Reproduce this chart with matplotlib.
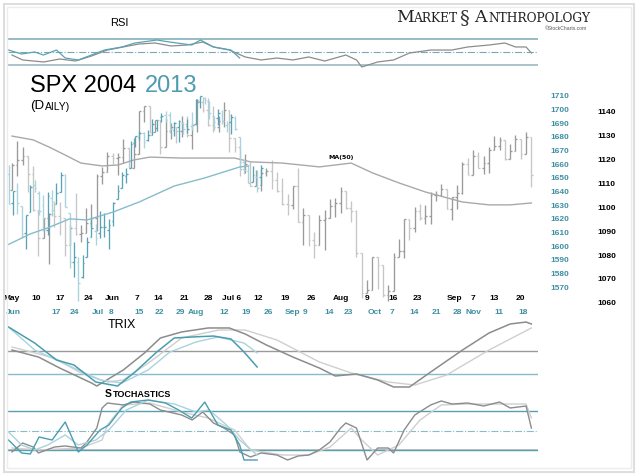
import numpy as np
import matplotlib
matplotlib.use('Agg')
import matplotlib.pyplot as plt
from matplotlib.patches import Rectangle

W, H = 640, 476
TEAL = '#3f8fa2'
TEAL_UP = '#5aa3b5'
TEAL_DN = '#a9d3dd'
GRAY_UP = '#9a9a9a'
GRAY_DN = '#c6c6c6'

# ---- SPX 2004 daily bars, May 3 .. Sep 22 (trading day index) ----
open04 = [1107.3, 1117.5, 1119.6, 1121.5, 1114.0, 1098.7, 1087.1, 1095.5, 1097.3, 1096.4,
          1095.7, 1084.1, 1091.5, 1088.7, 1089.2, 1093.6, 1095.4, 1113.1, 1114.9, 1121.3,
          1120.7, 1121.2, 1125.0, 1116.6, 1122.5, 1140.4, 1142.2, 1131.3, 1136.5, 1125.3,
          1132.0, 1133.6, 1132.1, 1135.0, 1130.3, 1134.4, 1144.1, 1140.7, 1134.4, 1133.4,
          1136.2, 1140.8, 1128.9, 1125.4, 1116.2, 1118.3, 1109.1, 1112.8, 1114.4, 1115.1,
          1111.5, 1106.7, 1101.4, 1100.9, 1108.7, 1093.9, 1096.8, 1086.2, 1084.1, 1094.8,
          1095.4, 1100.4, 1101.7, 1106.6, 1099.7, 1098.6, 1080.7, 1064.0, 1065.2, 1079.0,
          1075.8, 1063.2, 1064.8, 1079.3, 1081.7, 1095.2, 1091.2, 1098.4, 1095.7, 1096.2,
          1105.0, 1105.1, 1107.8, 1099.2, 1104.2, 1105.9, 1118.3, 1113.6, 1121.3, 1116.3,
          1118.4, 1123.9, 1125.8, 1128.3, 1120.4, 1123.5, 1128.6, 1122.2, 1129.3]
high04 = [1118.7, 1127.7, 1125.1, 1121.5, 1117.3, 1098.7, 1095.7, 1097.6, 1102.8, 1102.1,
          1095.7, 1092.4, 1105.9, 1092.6, 1099.6, 1101.3, 1113.8, 1116.7, 1123.0, 1122.7,
          1122.7, 1128.5, 1125.0, 1129.2, 1140.5, 1142.2, 1142.2, 1136.5, 1136.5, 1137.4,
          1135.3, 1133.6, 1138.1, 1138.0, 1135.1, 1145.2, 1146.3, 1145.9, 1142.6, 1138.3,
          1144.2, 1140.8, 1129.2, 1125.4, 1122.4, 1119.1, 1115.6, 1116.1, 1116.3, 1119.6,
          1114.6, 1112.2, 1105.5, 1108.9, 1116.3, 1099.7, 1096.8, 1089.8, 1096.7, 1098.8,
          1103.5, 1103.7, 1108.6, 1106.6, 1102.5, 1098.8, 1080.7, 1069.5, 1079.0, 1079.0,
          1075.8, 1067.6, 1080.7, 1086.8, 1095.2, 1095.2, 1100.3, 1101.4, 1100.9, 1106.3,
          1106.8, 1109.7, 1107.8, 1104.2, 1109.2, 1119.1, 1120.8, 1124.1, 1123.1, 1121.3,
          1125.3, 1129.8, 1129.5, 1128.3, 1126.6, 1130.1, 1128.6, 1131.5, 1129.3]
low04 = [1107.3, 1112.9, 1117.9, 1106.3, 1098.6, 1079.6, 1087.1, 1076.3, 1091.8, 1088.2,
         1079.4, 1084.1, 1088.5, 1085.4, 1089.2, 1091.8, 1090.0, 1109.9, 1114.9, 1118.1,
         1113.3, 1118.5, 1116.6, 1116.6, 1122.5, 1135.5, 1131.2, 1131.3, 1122.2, 1125.3,
         1128.7, 1126.9, 1129.6, 1129.6, 1124.4, 1131.7, 1139.9, 1133.9, 1131.7, 1131.5,
         1133.6, 1123.1, 1123.3, 1113.2, 1114.5, 1108.7, 1109.1, 1106.7, 1112.9, 1107.8,
         1106.5, 1101.1, 1096.6, 1099.1, 1093.9, 1084.2, 1083.6, 1078.8, 1084.1, 1082.2,
         1095.4, 1096.0, 1097.6, 1099.3, 1094.0, 1079.2, 1062.2, 1063.9, 1065.2, 1065.9,
         1062.5, 1060.7, 1064.8, 1079.3, 1078.9, 1086.1, 1089.6, 1094.7, 1092.8, 1093.2,
         1102.5, 1104.6, 1099.2, 1094.7, 1099.2, 1105.6, 1113.6, 1113.6, 1116.3, 1113.9,
         1114.4, 1123.9, 1124.1, 1119.8, 1120.4, 1123.5, 1120.3, 1122.2, 1108.6]
close04 = [1117.5, 1119.6, 1121.5, 1114.0, 1098.7, 1087.1, 1095.5, 1097.3, 1096.4, 1095.7,
           1084.1, 1091.5, 1088.7, 1089.2, 1093.6, 1095.4, 1113.1, 1114.9, 1121.3, 1120.7,
           1121.2, 1125.0, 1116.6, 1122.5, 1140.4, 1142.2, 1131.3, 1136.5, 1125.3, 1132.0,
           1133.6, 1132.1, 1135.0, 1130.3, 1134.4, 1144.1, 1140.7, 1134.4, 1133.4, 1136.2,
           1140.8, 1128.9, 1125.4, 1116.2, 1118.3, 1109.1, 1112.8, 1114.4, 1115.1, 1111.5,
           1106.7, 1101.4, 1100.9, 1108.7, 1093.9, 1096.8, 1086.2, 1084.1, 1094.8, 1095.4,
           1100.4, 1101.7, 1106.6, 1099.7, 1098.6, 1080.7, 1064.0, 1065.2, 1079.0, 1075.8,
           1063.2, 1064.8, 1079.3, 1081.7, 1095.2, 1091.2, 1098.4, 1095.7, 1096.2, 1105.0,
           1105.1, 1107.8, 1099.2, 1104.2, 1105.9, 1118.3, 1113.6, 1121.3, 1116.3, 1118.4,
           1123.9, 1125.8, 1128.3, 1120.4, 1123.5, 1128.6, 1122.2, 1129.3, 1113.6]

# ---- SPX 2013 daily bars, May 31 .. Aug 22 ----
open13 = [1652.6, 1631.7, 1640.7, 1629.1, 1609.9, 1625.3, 1644.7, 1638.6, 1629.9, 1612.2, 1635.5,
          1630.6, 1639.8, 1651.8, 1624.6, 1588.6, 1588.8, 1577.5, 1592.3, 1606.4, 1611.1,
          1609.8, 1614.3, 1611.5, 1618.7, 1634.2, 1642.9, 1651.6, 1657.4, 1675.3, 1679.6,
          1682.7, 1677.9, 1681.1, 1686.2, 1694.4, 1696.1, 1696.1, 1685.2, 1687.3, 1690.3,
          1687.9, 1687.8, 1689.4, 1706.1, 1708.0, 1705.8, 1695.3, 1693.4, 1696.1, 1688.4,
          1690.7, 1693.9, 1679.6, 1661.2, 1655.3, 1646.8, 1650.7, 1645.0]
high13 = [1659.0, 1640.4, 1646.5, 1629.3, 1622.6, 1644.4, 1648.7, 1640.1, 1637.7, 1639.3, 1640.8,
          1646.5, 1654.2, 1652.5, 1624.6, 1603.3, 1592.4, 1593.8, 1606.8, 1620.1, 1615.9,
          1626.0, 1624.3, 1620.1, 1632.1, 1644.7, 1654.2, 1656.9, 1676.6, 1680.2, 1684.5,
          1683.7, 1684.8, 1693.1, 1692.1, 1697.6, 1698.8, 1698.4, 1690.9, 1691.9, 1690.9,
          1693.2, 1698.4, 1707.9, 1709.7, 1709.2, 1705.8, 1695.3, 1700.2, 1699.4, 1691.5,
          1696.8, 1695.5, 1679.6, 1663.6, 1659.2, 1658.9, 1656.0, 1659.0]
low13 = [1630.7, 1622.7, 1623.6, 1607.1, 1598.2, 1625.3, 1639.3, 1622.9, 1610.9, 1608.1, 1622.4,
         1630.6, 1639.8, 1628.9, 1584.3, 1577.7, 1560.3, 1577.1, 1592.3, 1606.4, 1601.1,
         1606.3, 1606.8, 1598.2, 1614.7, 1634.2, 1642.9, 1646.0, 1657.4, 1672.3, 1677.9,
         1671.8, 1677.1, 1681.1, 1684.1, 1690.7, 1691.1, 1682.6, 1680.2, 1676.0, 1681.9,
         1682.4, 1684.9, 1689.4, 1700.7, 1703.6, 1693.3, 1684.9, 1688.4, 1689.0, 1683.4,
         1682.2, 1684.8, 1658.6, 1652.6, 1646.1, 1646.8, 1639.4, 1645.0]
close13 = [1630.7, 1640.4, 1631.4, 1608.9, 1622.6, 1643.4, 1642.8, 1626.1, 1612.5, 1636.4, 1626.7,
           1639.0, 1651.8, 1628.9, 1588.2, 1592.4, 1573.1, 1588.0, 1603.3, 1613.2, 1606.3,
           1614.1, 1614.1, 1615.4, 1631.9, 1640.5, 1652.3, 1652.6, 1675.0, 1680.2, 1682.5,
           1676.3, 1680.9, 1689.4, 1692.1, 1695.5, 1692.4, 1685.9, 1690.3, 1691.7, 1685.3,
           1686.0, 1685.7, 1706.9, 1709.7, 1707.1, 1697.4, 1690.9, 1697.5, 1691.4, 1689.5,
           1694.2, 1685.4, 1661.3, 1655.8, 1646.1, 1652.4, 1642.8, 1657.0]

# 50 day moving averages
ma04_x = [0, 4, 7, 10, 13, 17, 20, 23, 26, 32, 39, 42, 45, 51, 58, 64, 68, 73, 78, 85, 90, 94, 98]
ma04_y = [1129.8, 1128.2, 1125.2, 1121.9, 1118.5, 1117.3, 1117.7, 1119.8, 1121.0, 1120.6, 1120.6,
          1120.6, 1119.0, 1118.5, 1116.9, 1118.5, 1114.4, 1110.2, 1106.4, 1102.2, 1101.0, 1101.0, 1101.8]
ma13_x = [0, 5, 9, 14, 18, 24, 30, 38, 45, 53, 55]
ma13_y = [1601.3, 1609.0, 1613.4, 1620.0, 1619.2, 1625.0, 1632.4, 1644.0, 1649.9, 1657.9, 1658.6]

# date labels
ticks04 = [0, 4.5, 9, 14.5, 19, 23.5, 27.5, 32.5, 37, 41.5, 46.5, 51.5, 56.5, 62, 67, 72, 76.5,
           83.5, 87, 91, 96]
labels04 = ['May', '10', '17', '24', 'Jun', '7', '14', '21', '28', 'Jul 6', '12', '19', '26',
            'Aug', '9', '16', '23', 'Sep', '7', '13', '20']
ticks13 = [1, 11, 15, 20.5, 23.5, 30, 34.5, 39.5, 43, 49.5, 54.5, 59.5, 65, 68, 73.5, 78, 84,
           88, 93, 98, 103, 106.5, 112.5, 118]
labels13 = ['Jun', '17', '24', 'Jul', '8', '15', '22', '29', 'Aug', '12', '19', '26', 'Sep', '9',
            '14', '23', 'Oct', '7', '14', '21', '28', 'Nov', '11', '18']
price_ticks13 = list(range(1570, 1711, 10))
price_ticks04 = list(range(1060, 1141, 10))

# RSI
rsi04_x = [0, 2, 6, 9, 12, 15, 18, 21, 24, 27, 30, 33, 36, 38, 41, 44, 47, 50, 53, 56, 59, 63,
           65, 66, 69, 72, 75, 79, 83, 86, 90, 93, 95, 97, 98]
rsi04_y = [45.8, 38.2, 35.1, 39.7, 36.6, 44.3, 53.5, 58.2, 62.8, 64.3, 59.7, 61.2, 65.8, 58.2,
           53.5, 42.8, 38.2, 41.2, 38.2, 42.8, 36.6, 45.8, 38.2, 27.4, 35.1, 38.2, 48.9, 53.5,
           53.5, 58.2, 61.2, 64.3, 58.2, 58.2, 48.9]
rsi13_x = [0, 3, 6, 8, 11, 13, 16, 19, 22, 26, 29, 34, 37, 42, 44, 47, 51, 53]
rsi13_y = [53.5, 47.4, 50.5, 45.8, 53.5, 41.2, 38.2, 45.8, 53.5, 58.2, 64.3, 68.9, 65.8, 61.2,
           68.9, 58.2, 53.5, 41.2]

# TRIX (panel scale 0-100)
trix04_x = [0, 5, 9, 15, 16, 21, 25, 28, 32, 37, 41, 44, 48, 53, 58, 61, 65, 69, 72, 75, 79,
            85, 90, 94, 97, 98]
trix04_y = [57.1, 47.1, 31.4, 10.0, 5.7, 28.6, 52.9, 74.3, 82.9, 88.6, 88.6, 80.0, 64.3, 47.1,
            31.4, 20.0, 22.9, 14.3, 4.3, 4.3, 25.7, 57.1, 81.4, 94.3, 97.1, 94.3]
trsig04_x = [0, 8, 13, 18, 21, 26, 32, 39, 44, 50, 58, 64, 71, 76, 82, 90, 98]
trsig04_y = [61.4, 45.7, 24.3, 11.4, 14.3, 40.0, 74.3, 85.7, 85.7, 71.4, 40.0, 24.3, 11.4, 7.1,
             21.4, 57.1, 88.6]
trix13_x = [0, 6, 11, 15, 20, 25, 29, 34, 38, 42, 47, 51, 54, 57]
trix13_y = [90.0, 67.1, 42.9, 35.7, 11.4, 5.7, 25.7, 54.3, 74.3, 75.7, 77.1, 72.9, 54.3, 32.9]
trsig13_x = [0, 6, 17, 21, 26, 32, 37, 43, 48, 54, 57]
trsig13_y = [90.0, 57.1, 25.7, 14.3, 10.0, 28.6, 54.3, 68.6, 75.7, 67.1, 52.9]

# Stochastics
stk04_x = [0, 2, 4, 5, 8, 10, 13, 14, 16, 17, 18, 21, 23, 26, 28, 32, 34, 36, 38, 40, 42, 43,
           45, 47, 50, 52, 54, 56, 58, 60, 62, 63, 65, 67, 69, 71, 72, 74, 76, 79, 81, 83, 86,
           89, 92, 94, 97, 98]
stk04_y = [17.4, 31.1, 25.0, 15.9, 25.0, 26.6, 23.5, 31.1, 54.0, 84.6, 92.2, 89.2, 93.7, 90.7,
           81.5, 73.9, 66.3, 78.5, 61.7, 54.0, 43.4, 17.4, 9.8, 15.9, 12.8, 5.2, 11.3, 12.8,
           20.5, 32.7, 54.0, 61.7, 54.0, 5.2, 23.5, 23.5, 15.9, 51.0, 73.9, 89.2, 95.3, 90.7,
           92.2, 87.6, 93.7, 84.6, 87.6, 54.0]
std04_x = [0, 5, 13, 17, 18, 21, 26, 32, 37, 42, 45, 51, 56, 60, 64, 66, 69, 73, 77, 81, 86,
           92, 97, 98]
std04_y = [23.5, 20.5, 23.5, 35.7, 58.6, 89.2, 92.2, 78.5, 69.3, 51.0, 20.5, 12.8, 12.8, 25.0,
           54.0, 35.7, 12.8, 28.1, 66.3, 89.2, 90.7, 90.7, 90.7, 69.3]
stk13_x = [0, 3, 5, 7, 8, 10, 13, 16, 18, 21, 23, 26, 28, 32, 36, 39, 42, 45, 48, 51, 53, 54, 57]
stk13_y = [35.7, 15.9, 14.4, 40.3, 38.8, 35.7, 63.2, 17.4, 28.1, 51.0, 58.6, 84.6, 93.7, 96.8,
           92.2, 81.5, 69.3, 93.7, 58.6, 51.0, 28.1, 5.2, 5.2]
std13_x = [0, 3, 6, 9, 13, 16, 20, 23, 27, 32, 38, 43, 46, 50, 53, 57]
std13_y = [48.0, 28.1, 20.5, 28.1, 43.4, 28.1, 35.7, 51.0, 81.5, 96.8, 90.7, 78.5, 81.5, 58.6,
           35.7, 12.8]


def rect(x0, y0, x1, y1):
    return [x0 / W, 1 - y1 / H, (x1 - x0) / W, (y1 - y0) / H]


def ftext(x, y, s, **kw):
    fig.text(x / W, 1 - y / H, s, **kw)


X04 = (-0.755, 99.25)
X13 = (-0.12, 121.4)

fig = plt.figure(figsize=(6.4, 4.76), dpi=100)
fig.patch.set_facecolor('white')


def overlay(r, ylim04, ylim13):
    out = []
    for xl, yl in ((X04, ylim04), (X13, ylim13)):
        a = fig.add_axes(r)
        a.set_xlim(xl)
        a.set_ylim(yl)
        a.patch.set_visible(False)
        for s in a.spines.values():
            s.set_visible(False)
        a.set_xticks([])
        a.set_yticks([])
        out.append(a)
    return out


def draw_bars(ax, o, h, l, c, up, dn, tick):
    x = np.arange(len(c))
    cols = [up if c[i] >= (c[i - 1] if i else o[0]) else dn for i in range(len(c))]
    ax.vlines(x, l, h, colors=cols, lw=0.95)
    ax.hlines(o, x - tick, x, colors=cols, lw=0.95)
    ax.hlines(c, x, x + tick, colors=cols, lw=0.95)


# ---- main price panel ----
a04, a13 = overlay(rect(8, 68, 538, 304), (1059.5, 1158.3), (1557.8, 1730.2))
draw_bars(a04, open04, high04, low04, close04, GRAY_UP, GRAY_DN, 0.32)
a04.plot(ma04_x, ma04_y, color='#a9a9a9', lw=1.0)
draw_bars(a13, open13, high13, low13, close13, TEAL_UP, TEAL_DN, 0.38)
a13.plot(ma13_x, ma13_y, color='#86bccb', lw=1.0)

a04.yaxis.tick_right()
a04.set_yticks(price_ticks04)
a04.tick_params(axis='y', length=0, pad=43, labelsize=6, labelcolor='black')
a13.yaxis.tick_right()
a13.set_yticks(price_ticks13)
a13.tick_params(axis='y', length=0, pad=9, labelsize=6, labelcolor=TEAL)

a04.set_xticks(ticks04)
a04.set_xticklabels(labels04)
a04.tick_params(axis='x', length=0, pad=-6.5, labelsize=6, labelcolor='black')
a13.set_xticks(ticks13)
a13.set_xticklabels(labels13)
a13.tick_params(axis='x', length=0, pad=3.5, labelsize=6, labelcolor=TEAL)
for a in (a04, a13):
    for lab in a.get_xticklabels() + a.get_yticklabels():
        lab.set_fontweight('bold')
        lab.set_family('Liberation Sans')

a04.text(62.0, 1119.8, 'MA(50)', fontsize=4.5, fontweight='bold', ha='center', va='bottom')

# ---- RSI panel ----
r04, r13 = overlay(rect(8, 34, 538, 70), (22.77, 78.15), (22.77, 78.15))
r04.axhline(70, color='#7aa9b5', lw=1.1)
r04.axhline(50, color='#7aa9b5', lw=0.8, ls='-.')
r04.axhline(30, color='#93b3bb', lw=1.1)
r04.plot(rsi04_x, rsi04_y, color='#8c8c8c', lw=0.9)
r13.plot(rsi13_x, rsi13_y, color='#5aa3b5', lw=0.9)

# ---- TRIX panel ----
t04, t13 = overlay(rect(8, 320, 538, 390), (0, 100), (0, 100))
t04.axhline(56.1, color='#9a9a9a', lw=1.0)
t04.axhline(22.9, color='#86bccb', lw=1.0)
t04.plot(trsig04_x, trsig04_y, color='#cfcfcf', lw=1.0)
t04.plot(trix04_x, trix04_y, color='#8c8c8c', lw=1.1)
t13.plot(trsig13_x, trsig13_y, color='#a9d3dd', lw=1.0)
t13.plot(trix13_x, trix13_y, color='#4a9db0', lw=1.1)

# ---- Stochastics panel ----
s04, s13 = overlay(rect(8, 397.9, 538, 463.4), (0, 100), (0, 100))
s04.axhline(80, color='#5a9fb0', lw=1.0)
s04.axhline(50, color='#86bccb', lw=0.8, ls='-.')
s04.axhline(21, color='#c8c8c8', lw=1.4)
s04.axhline(20, color='#5a9fb0', lw=1.0)
s04.plot(std04_x, std04_y, color='#cfcfcf', lw=1.0)
s04.plot(stk04_x, stk04_y, color='#8c8c8c', lw=1.0)
s13.plot(std13_x, std13_y, color='#a9d3dd', lw=1.0)
s13.plot(stk13_x, stk13_y, color='#4a9db0', lw=1.0)

# ---- texts ----
sans = 'Liberation Sans'
ftext(110, 26, 'RSI', fontsize=8, family=sans)
ftext(108, 328, 'TRIX', fontsize=9, family=sans)
ftext(105, 397, 'S', fontsize=7.5, family=sans, fontweight='bold')
ftext(113, 397, 'TOCHASTICS', fontsize=6.5, family=sans, fontweight='bold')
ftext(30, 92, 'SPX 2004', fontsize=17, family=sans)
ftext(145, 92, '2013', fontsize=17, family=sans, color='#4f9bb0')
ftext(30, 109.5, '(D', fontsize=9.5, family=sans)
ftext(45, 109.5, 'AILY)', fontsize=7.5, family=sans)

serif = 'DejaVu Serif'
ftext(396, 22, 'M', fontsize=12.5, family=serif, color='#222222')
ftext(413.5, 22, 'ARKET', fontsize=8.8, family=serif, color='#222222')
ftext(459, 23, '\u00a7', fontsize=14, family=serif, color='#333333')
ftext(474, 22, 'A', fontsize=12.5, family=serif, color='#222222')
ftext(488, 22, 'NTHROPOLOGY', fontsize=8.8, family=serif, color='#222222')
ftext(545, 30, '\u00a9StockCharts.com', fontsize=3.6, family=sans, color='#555555')

# frame
fig.patches.append(Rectangle((3.5 / W, 1 - 471.5 / H), 630.5 / W, 468 / H,
                             transform=fig.transFigure, fill=False, ec='#dedede', lw=1.5))
fig.patches.append(Rectangle((7.3 / W, 1 - 468 / H), 623.4 / W, 461 / H,
                             transform=fig.transFigure, fill=False, ec='#ececec', lw=1.0))

fig.savefig('out.png', dpi=100)
